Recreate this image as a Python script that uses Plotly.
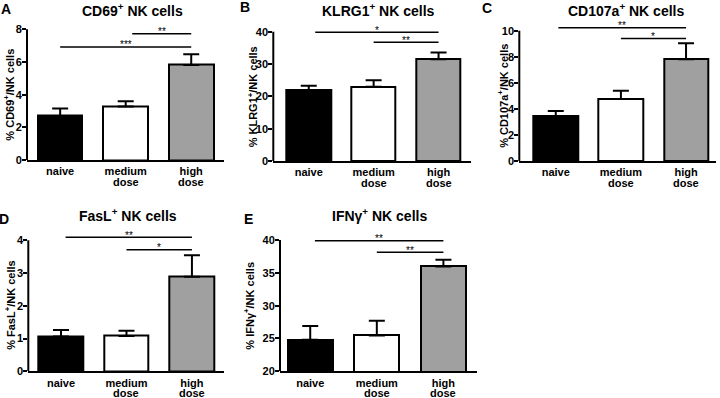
import plotly.graph_objects as go

# ---------------- data ----------------
groups = ["naive", "medium", "high"]          # first label line
groups_line2 = ["", "dose", "dose"]           # second label line
group_pos = [0, 1, 2]
bar_colors = ["#000000", "#ffffff", "#a0a0a0"]

cd69_mean = [2.70, 3.27, 5.82]
cd69_sem = [0.45, 0.33, 0.65]
klrg1_mean = [21.9, 23.0, 31.5]
klrg1_sem = [1.4, 2.0, 2.1]
cd107a_mean = [3.45, 4.76, 7.80]
cd107a_sem = [0.39, 0.64, 1.23]
fasl_mean = [1.06, 1.08, 2.89]
fasl_sem = [0.20, 0.16, 0.65]
ifng_mean = [24.8, 25.45, 35.95]
ifng_sem = [2.1, 2.25, 1.05]

cd69_ticks = [0, 2, 4, 6, 8]
klrg1_ticks = [0, 10, 20, 30, 40]
cd107a_ticks = [0, 2, 4, 6, 8, 10]
fasl_ticks = [0, 1, 2, 3, 4]
ifng_ticks = [20, 25, 30, 35, 40]

# significance brackets: (from group, to group, label, height)
cd69_sig = [(0, 2, "***", 6.92), (1.1, 2, "**", 7.73)]
klrg1_sig = [(0.1, 2, "*", 39.8), (1, 2, "**", 36.7)]
cd107a_sig = [(0.04, 2, "**", 10.23), (1, 2, "*", 9.4)]
fasl_sig = [(0.07, 2, "**", 4.09), (1, 2, "*", 3.71)]
ifng_sig = [(0.07, 2, "**", 39.9), (1, 2, "**", 38.14)]

titles = ["CD69<sup>+</sup> NK cells", "KLRG1<sup>+</sup> NK cells",
          "CD107a<sup>+</sup> NK cells", "FasL<sup>+</sup> NK cells",
          "IFNγ<sup>+</sup> NK cells"]
ylabels = ["% CD69<sup>+</sup>/NK cells", "% KLRG1<sup>+</sup>/NK cells",
           "% CD107a<sup>+</sup>/NK cells", "% FasL<sup>+</sup>/NK cells",
           "% IFNγ<sup>+</sup>/NK cells"]
letters = ["A", "B", "C", "D", "E"]

means = [cd69_mean, klrg1_mean, cd107a_mean, fasl_mean, ifng_mean]
sems = [cd69_sem, klrg1_sem, cd107a_sem, fasl_sem, ifng_sem]
ticks = [cd69_ticks, klrg1_ticks, cd107a_ticks, fasl_ticks, ifng_ticks]
sigs = [cd69_sig, klrg1_sig, cd107a_sig, fasl_sig, ifng_sig]

# ---------------- layout geometry (pixels) ----------------
W, H = 720, 398
# left, right, bottom, top-tick pixel; x range lo, hi
frames = [
    (27.0, 224.0, 160.0, 29.3, -0.506, 2.5),
    (273.3, 471.0, 161.0, 31.7, -0.546, 2.5),
    (519.3, 716.0, 161.0, 30.7, -0.56, 2.46),
    (28.3, 224.0, 371.3, 240.3, -0.50, 2.49),
    (280.0, 476.7, 371.3, 240.0, -0.454, 2.5),
]
title_pos = [(132, 10), (378, 9.5), (626, 9.5), (128, 215), (379, 215)]
letter_pos = [(6, 9), (245, 7), (487, 8), (4, 219), (248, 219)]
ylabel_x = [9, 253, 503, 10, 249]
LINE2_OFFSET = 21.5
HEAD = 0.06

FONT = "Liberation Sans, Arial, sans-serif"

fig = go.Figure()
shapes = []
annotations = []
layout = {}

for i in range(5):
    sfx = "" if i == 0 else str(i + 1)
    xr, yr = "x" + sfx, "y" + sfx
    l, r, b, t, xlo, xhi = frames[i]
    lo, top = ticks[i][0], ticks[i][-1]
    hi = top + HEAD * (top - lo)
    dom_top_px = t - HEAD * (b - t)

    fig.add_trace(go.Bar(
        x=group_pos, y=means[i], xaxis=xr, yaxis=yr, width=0.68,
        marker=dict(color=bar_colors, line=dict(color="black", width=2)),
        error_y=dict(type="data", symmetric=False, array=sems[i],
                     arrayminus=[0] * len(sems[i]),
                     color="black", thickness=2, width=8),
        showlegend=False, hoverinfo="skip",
    ))

    layout["xaxis" + sfx] = dict(
        domain=[l / W, r / W], range=[xlo, xhi], anchor=yr,
        tickmode="array", tickvals=group_pos, ticktext=groups,
        showline=True, linecolor="black", linewidth=2, ticks="",
        showgrid=False, zeroline=False, fixedrange=True, automargin=False,
        tickfont=dict(family=FONT, size=11, color="black", weight="bold"),
    )
    layout["yaxis" + sfx] = dict(
        domain=[1 - b / H, 1 - dom_top_px / H], range=[lo, hi], anchor=xr,
        tickmode="array", tickvals=ticks[i], automargin=False,
        showline=False, ticks="outside", ticklen=4, tickwidth=2,
        tickcolor="black", showgrid=False, zeroline=False,
        ticklabelstandoff=-2,
        tickfont=dict(family=FONT, size=11, color="black", weight="bold"),
    )

    # second line of the category labels
    for gp, txt in zip(group_pos, groups_line2):
        if txt:
            annotations.append(dict(x=gp, xref=xr, y=1 - (b + LINE2_OFFSET) / H,
                                    yref="paper", text=txt, showarrow=False,
                                    xanchor="center", yanchor="middle",
                                    font=dict(family=FONT, size=11,
                                              color="black", weight="bold")))

    # y axis line from bottom to top tick
    shapes.append(dict(type="line", xref=xr + " domain", yref=yr,
                       x0=0, x1=0, y0=lo, y1=top,
                       line=dict(color="black", width=2)))

    # significance brackets
    for (g0, g1, lab, yy) in sigs[i]:
        shapes.append(dict(type="line", xref=xr, yref=yr, x0=g0, x1=g1,
                           y0=yy, y1=yy, line=dict(color="black", width=1.5)))
        annotations.append(dict(x=(g0 + g1) / 2, y=yy, xref=xr, yref=yr,
                                text=lab, showarrow=False, yanchor="middle",
                                yshift=2,
                                font=dict(family=FONT, size=10, color="black")))

    # title
    tx, ty = title_pos[i]
    annotations.append(dict(x=tx / W, y=1 - ty / H, xref="paper", yref="paper",
                            text=titles[i], showarrow=False,
                            xanchor="center", yanchor="middle",
                            font=dict(family=FONT, size=14, color="black",
                                      weight="bold")))
    # panel letter
    lx, ly = letter_pos[i]
    annotations.append(dict(x=lx / W, y=1 - ly / H, xref="paper", yref="paper",
                            text=letters[i], showarrow=False,
                            xanchor="center", yanchor="middle",
                            font=dict(family=FONT, size=14, color="black",
                                      weight="bold")))
    # y axis label
    annotations.append(dict(x=ylabel_x[i] / W, y=1 - (b + t) / 2 / H,
                            xref="paper", yref="paper", text=ylabels[i],
                            showarrow=False, textangle=-90,
                            xanchor="center", yanchor="middle",
                            font=dict(family=FONT, size=11, color="black",
                                      weight="bold")))

fig.update_layout(
    width=W, height=H, margin=dict(l=0, r=0, t=0, b=0, autoexpand=False),
    paper_bgcolor="white", plot_bgcolor="white",
    shapes=shapes, annotations=annotations, bargap=0,
    font=dict(family=FONT, color="black"),
    **layout,
)

fig.write_html("out.html", config={"displayModeBar": False},
               post_script="document.body.style.margin='0';"
                           "document.body.style.overflow='hidden';")
